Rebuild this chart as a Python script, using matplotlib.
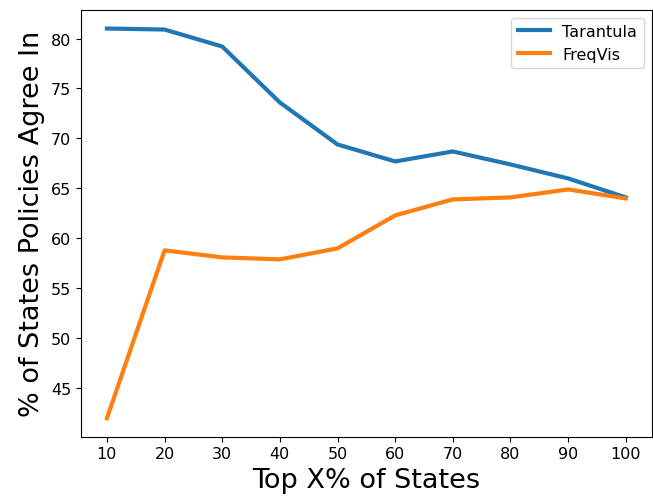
import matplotlib
matplotlib.use("Agg")
import matplotlib.pyplot as plt

top_pct = [10, 20, 30, 40, 50, 60, 70, 80, 90, 100]
tarantula = [81.0, 80.9, 79.2, 73.6, 69.4, 67.7, 68.7, 67.4, 66.0, 64.1]
freqvis = [42.0, 58.8, 58.1, 57.9, 59.0, 62.3, 63.9, 64.1, 64.9, 64.0]

fig, ax = plt.subplots(figsize=(6.53, 5.02), dpi=100)
fig.subplots_adjust(left=0.124, right=0.998, top=0.979, bottom=0.128)

ax.plot(top_pct, tarantula, linewidth=3, label="Tarantula")
ax.plot(top_pct, freqvis, linewidth=3, label="FreqVis")

ax.set_xticks(top_pct)
ax.set_ylim(40.15, 82.9)
ax.tick_params(labelsize=11.5)
ax.set_xlabel("Top X% of States", fontsize=19.5)
ax.set_ylabel("% of States Policies Agree In", fontsize=19.5)
ax.legend(loc="upper right", fontsize=11.5)

fig.savefig("out.png", dpi=100)
